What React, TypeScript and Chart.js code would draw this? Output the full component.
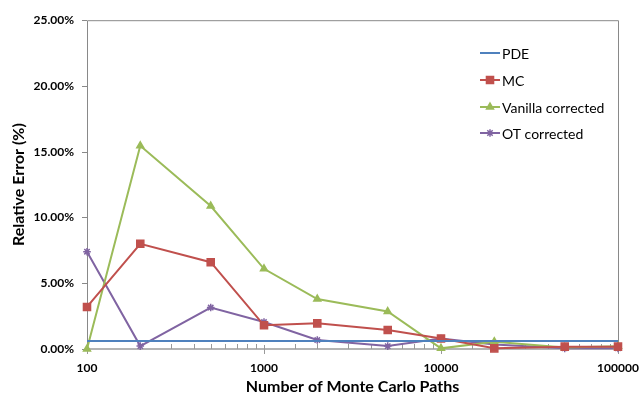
import React, { useEffect, useRef } from 'react';
import { Chart, registerables } from 'chart.js';
import { drawPoint } from 'chart.js/helpers';

Chart.register(...registerables);

const paths = [100, 200, 500, 1000, 2000, 5000, 10000, 20000, 50000, 100000];
const pdeErr = [0.6, 0.6, 0.6, 0.6, 0.6, 0.6, 0.6, 0.6, 0.6, 0.6];
const mcErr = [3.2, 8.0, 6.6, 1.8, 1.95, 1.45, 0.8, 0.05, 0.18, 0.18];
const vanillaErr = [0.0, 15.45, 10.87, 6.1, 3.8, 2.85, 0.05, 0.56, 0.12, 0.2];
const otErr = [7.4, 0.22, 3.15, 2.05, 0.68, 0.22, 0.8, 0.35, 0.05, 0.05];
const yTickStep = 5;

const FONT = 'Lato, "Open Sans", sans-serif';

const isPow10 = (v: number) => {
  const l = Math.log10(v);
  return Math.abs(l - Math.round(l)) < 1e-9;
};

const framePlugin = {
  id: 'frame',
  beforeDatasetsDraw(chart: any) {
    const { ctx, chartArea } = chart;
    const { left, right, top, bottom } = chartArea;
    const xs = chart.scales.x;
    const ys = chart.scales.y;
    ctx.save();
    ctx.strokeStyle = '#898989';
    ctx.lineWidth = 1;
    ctx.beginPath();
    ctx.moveTo(left + 0.5, bottom);
    ctx.lineTo(left + 0.5, top + 0.5);
    ctx.lineTo(right + 0.5, top + 0.5);
    ctx.lineTo(right + 0.5, bottom);
    ctx.stroke();
    ctx.beginPath();
    for (const t of ys.ticks) {
      const y = Math.round(ys.getPixelForValue(t.value)) + 0.5;
      ctx.moveTo(left - 5, y);
      ctx.lineTo(left, y);
    }
    ctx.stroke();
    ctx.strokeStyle = '#B4B4B4';
    ctx.lineWidth = 2;
    ctx.beginPath();
    ctx.moveTo(left, bottom);
    ctx.lineTo(right + 1, bottom);
    ctx.stroke();
    ctx.strokeStyle = '#9A9A9A';
    ctx.lineWidth = 1;
    ctx.beginPath();
    for (const t of xs.ticks) {
      const x = Math.round(xs.getPixelForValue(t.value)) + 0.5;
      if (isPow10(t.value)) {
        ctx.moveTo(x, bottom - 4);
        ctx.lineTo(x, bottom + 5);
      } else {
        ctx.moveTo(x, bottom - 5);
        ctx.lineTo(x, bottom);
      }
    }
    ctx.stroke();
    ctx.restore();
  },
};

const legendPlugin = {
  id: 'customLegend',
  afterDraw(chart: any) {
    const { ctx } = chart;
    const x0 = 480;
    const x1 = 500;
    const ys = [53, 80, 107, 133];
    ctx.save();
    chart.data.datasets.forEach((ds: any, i: number) => {
      const y = ys[i];
      ctx.strokeStyle = ds.borderColor;
      ctx.lineWidth = 2;
      ctx.beginPath();
      ctx.moveTo(x0, y);
      ctx.lineTo(x1, y);
      ctx.stroke();
      if (ds.pointRadius > 0) {
        ctx.fillStyle = ds.pointBackgroundColor;
        ctx.strokeStyle = ds.pointBorderColor;
        ctx.lineWidth = ds.pointBorderWidth;
        drawPoint(ctx, { pointStyle: ds.pointStyle, radius: ds.pointRadius, borderWidth: ds.pointBorderWidth, rotation: 0 }, (x0 + x1) / 2, y);
      }
      ctx.fillStyle = '#000';
      ctx.font = `14px ${FONT}`;
      ctx.textBaseline = 'middle';
      ctx.textAlign = 'left';
      ctx.fillText(ds.label, x1 + 2, y + 1);
    });
    ctx.restore();
  },
};

export default function App() {
  const ref = useRef<HTMLCanvasElement>(null);
  useEffect(() => {
    document.body.style.margin = '0';
    const mk = (label: string, data: number[], color: string, style: any, radius: number) => ({
      label,
      data: paths.map((p, i) => ({ x: p, y: data[i] })),
      borderColor: color,
      backgroundColor: color,
      pointBackgroundColor: color,
      pointBorderColor: color,
      pointBorderWidth: 1.5,
      borderWidth: 2,
      pointStyle: style,
      pointRadius: radius,
      tension: 0,
      clip: false as any,
    });
    const chart = new Chart(ref.current!, {
      type: 'line',
      data: {
        datasets: [
          mk('PDE', pdeErr, '#4F81BD', 'circle', 0),
          mk('MC', mcErr, '#C0504D', 'rect', 5),
          mk('Vanilla corrected', vanillaErr, '#9BBB59', 'triangle', 4),
          mk('OT corrected', otErr, '#8064A2', 'star', 3.8),
        ],
      },
      options: {
        animation: false,
        responsive: false,
        layout: { padding: { left: 0, right: 21, top: 20, bottom: 0 } },
        plugins: { legend: { display: false }, tooltip: { enabled: false } },
        scales: {
          x: {
            type: 'logarithmic',
            min: 100,
            max: 100000,
            grid: { display: false, drawTicks: false },
            border: { display: false },
            ticks: {
              autoSkip: false,
              maxRotation: 0,
              padding: 12,
              color: '#000',
              font: { family: FONT, size: 12, weight: 'bold' },
              callback: (v: any) => (isPow10(Number(v)) ? String(v) : ''),
            },
            title: {
              display: true,
              text: 'Number of Monte Carlo Paths',
              color: '#000',
              font: { family: FONT, size: 16, weight: 'bold' },
              padding: { top: 0, bottom: 0 },
            },
            afterFit: (s: any) => {
              s.height = 47;
              s.paddingLeft = 0;
              s.paddingRight = 0;
            },
          },
          y: {
            min: 0,
            max: 25,
            grid: { display: false, drawTicks: false },
            border: { display: false },
            ticks: {
              stepSize: yTickStep,
              padding: 13,
              color: '#000',
              font: { family: FONT, size: 12, weight: 'bold' },
              callback: (v: any) => Number(v).toFixed(2) + '%',
            },
            title: {
              display: true,
              text: 'Relative Error (%)',
              color: '#000',
              font: { family: FONT, size: 16, weight: 'bold' },
              padding: { top: 9, bottom: 0 },
            },
            afterFit: (s: any) => { s.width = 87; },
          },
        },
      },
      plugins: [framePlugin, legendPlugin],
    });
    return () => chart.destroy();
  }, []);
  return (
    <div style={{ position: 'fixed', left: 0, top: 0, width: 639, height: 396, background: '#fff' }}>
      <canvas ref={ref} width={639} height={396} style={{ width: 639, height: 396, display: 'block' }} />
    </div>
  );
}
